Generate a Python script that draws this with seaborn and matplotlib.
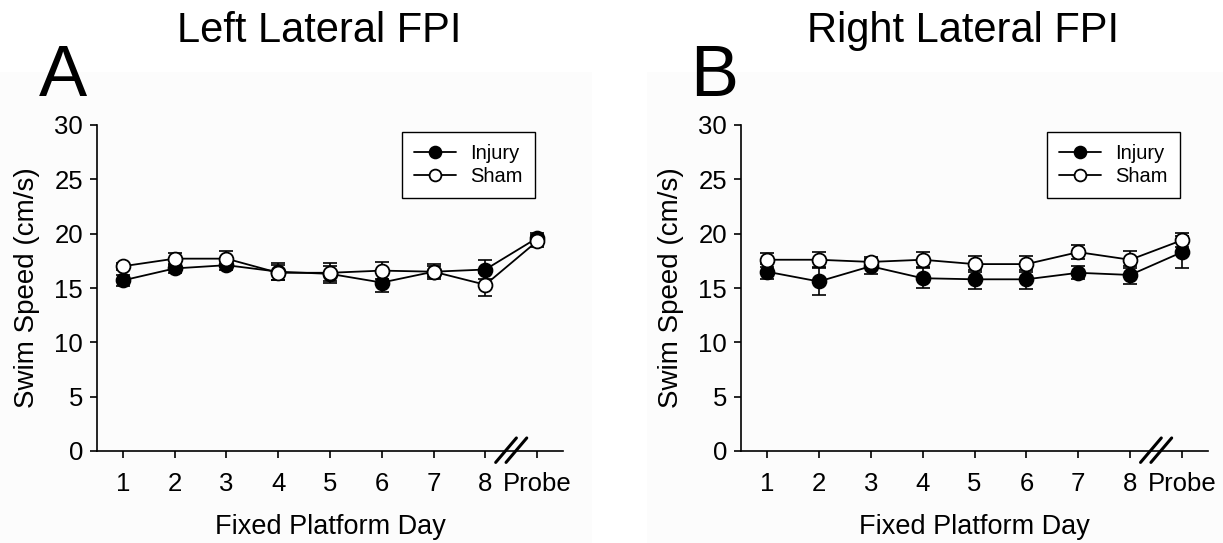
import numpy as np
import pandas as pd
import matplotlib
matplotlib.use("Agg")
import matplotlib.pyplot as plt
from matplotlib.patches import Rectangle
import seaborn as sns

# ---- data ----
days = ["1", "2", "3", "4", "5", "6", "7", "8", "Probe"]

left_injury = [15.7, 16.8, 17.1, 16.5, 16.3, 15.5, 16.5, 16.7, 19.6]
left_injury_err = [0.5, 0.4, 0.4, 0.8, 0.7, 0.9, 0.5, 0.9, 0.45]
left_sham = [17.0, 17.7, 17.7, 16.4, 16.4, 16.6, 16.5, 15.3, 19.3]
left_sham_err = [0.3, 0.55, 0.75, 0.7, 0.9, 0.75, 0.7, 1.05, 0.55]

right_injury = [16.5, 15.6, 17.0, 15.9, 15.8, 15.8, 16.4, 16.2, 18.3]
right_injury_err = [0.7, 1.2, 0.7, 0.9, 0.9, 0.9, 0.6, 0.8, 1.5]
right_sham = [17.6, 17.6, 17.4, 17.6, 17.2, 17.2, 18.3, 17.6, 19.4]
right_sham_err = [0.65, 0.7, 0.45, 0.7, 0.75, 0.75, 0.65, 0.8, 0.65]

titles = ["Left Lateral FPI", "Right Lateral FPI"]
panel_letters = ["A", "B"]
yticks = [0, 5, 10, 15, 20, 25, 30]

sns.set_style("ticks")
plt.rcParams["font.family"] = ["Liberation Sans", "DejaVu Sans"]
plt.rcParams.update({
    "text.color": "black",
    "axes.labelcolor": "black",
    "xtick.color": "black",
    "ytick.color": "black",
})

W, H = 1223, 543
fig = plt.figure(figsize=(W / 100, H / 100), dpi=100)
fig.patch.set_facecolor("white")
# faint panel backgrounds
fig.patches.append(Rectangle((0, 0), 592 / W, 1 - 72 / H, transform=fig.transFigure,
                             facecolor="#fcfcfc", edgecolor="none", zorder=-10))
fig.patches.append(Rectangle((647 / W, 0), 1 - 647 / W, 1 - 72 / H, transform=fig.transFigure,
                             facecolor="#fcfcfc", edgecolor="none", zorder=-10))

ax_pos = [
    [97 / W, 92 / H, 466 / W, 326 / H],
    [741 / W, 92 / H, 467 / W, 326 / H],
]
letter_x = [-0.125, -0.109]

panels = [
    (left_injury, left_injury_err, left_sham, left_sham_err),
    (right_injury, right_injury_err, right_sham, right_sham_err),
]

x = np.arange(1, len(days) + 1)

for i, (inj, inj_e, sh, sh_e) in enumerate(panels):
    ax = fig.add_axes(ax_pos[i])
    ax.set_facecolor("none")
    df_inj = pd.DataFrame({"day": x, "speed": inj})
    df_sh = pd.DataFrame({"day": x, "speed": sh})

    ax.errorbar(x, inj, yerr=inj_e, fmt="none", ecolor="black", elinewidth=1.2,
                capsize=5, capthick=1.2, zorder=2)
    ax.errorbar(x, sh, yerr=sh_e, fmt="none", ecolor="black", elinewidth=1.2,
                capsize=5, capthick=1.2, zorder=4)
    sns.lineplot(data=df_inj, x="day", y="speed", ax=ax, color="black", lw=1.3,
                 marker="o", markersize=10, markerfacecolor="black",
                 markeredgecolor="black", markeredgewidth=1.3, label="Injury",
                 zorder=3)
    sns.lineplot(data=df_sh, x="day", y="speed", ax=ax, color="black", lw=1.3,
                 marker="o", markersize=10, markerfacecolor="white",
                 markeredgecolor="black", markeredgewidth=1.3, label="Sham",
                 zorder=5)

    ax.set_xlim(0.5, 9.5)
    ax.set_ylim(0, 30)
    ax.set_xticks(x)
    ax.set_xticklabels(days)
    ax.set_yticks(yticks)
    ax.tick_params(axis="both", labelsize=18.5, direction="out", length=5, width=1.2,
                   color="black", labelcolor="black", pad=5)
    ax.tick_params(axis="x", pad=10)
    ax.set_xlabel("Fixed Platform Day", fontsize=19.5, labelpad=13)
    ax.set_ylabel("Swim Speed (cm/s)", fontsize=20, labelpad=10)
    for side in ["top", "right"]:
        ax.spines[side].set_visible(False)
    for side in ["left", "bottom"]:
        ax.spines[side].set_linewidth(1.2)
        ax.spines[side].set_color("black")

    # axis break marks between day 8 and Probe
    trans = ax.get_xaxis_transform()
    for dx in (-0.1, 0.1):
        ax.plot([8.5 + dx - 0.2, 8.5 + dx + 0.2], [-0.035, 0.04], transform=trans,
                color="black", lw=2.2, clip_on=False, zorder=10)

    leg = ax.legend(loc="upper right", bbox_to_anchor=(0.94, 0.979), fontsize=14.5,
                    frameon=True, fancybox=False, handlelength=2.1, handletextpad=0.7,
                    borderpad=0.6, labelspacing=0.2, markerscale=0.85,
                    borderaxespad=0.0)
    leg.get_frame().set_edgecolor("black")
    leg.get_frame().set_linewidth(1.0)
    leg.get_frame().set_facecolor("white")
    leg.get_frame().set_alpha(1)

    ax.text(0.5 - 11 / 466, 1 + 83 / 326, titles[i], transform=ax.transAxes,
            fontsize=30, ha="center", va="baseline")
    ax.text(letter_x[i], 1 + 29 / 326, panel_letters[i], transform=ax.transAxes,
            fontsize=52, ha="left", va="baseline")

fig.savefig("out.png", dpi=100)
